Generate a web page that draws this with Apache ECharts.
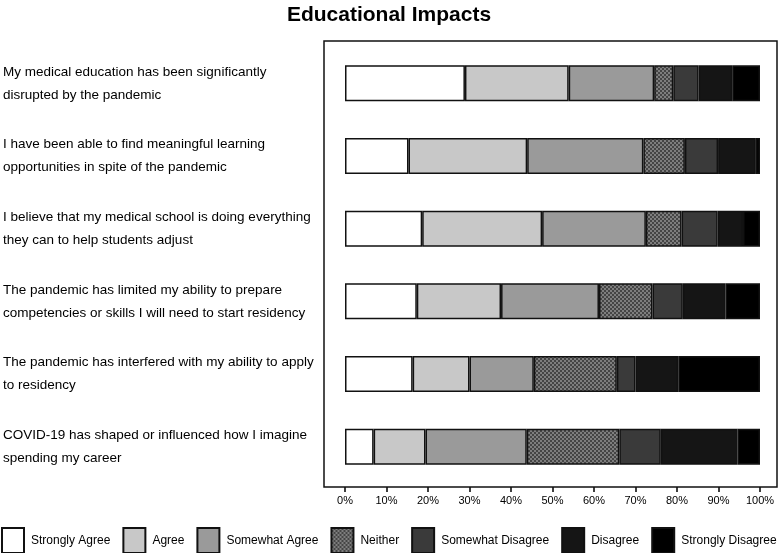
<!DOCTYPE html>
<html>
<head>
<meta charset="utf-8">
<script src="https://cdn.jsdelivr.net/npm/echarts@6/dist/echarts.min.js"></script>
<style>
html,body{margin:0;padding:0;background:#fff;}
#chart{width:778px;height:553px;}
</style>
</head>
<body>
<div id="chart"></div>
<script>
const categories = [
  "My medical education has been significantly\ndisrupted by the pandemic",
  "I have been able to find meaningful learning\nopportunities in spite of the pandemic",
  "I believe that my medical school is doing everything\nthey can to help students adjust",
  "The pandemic has limited my ability to prepare\ncompetencies or skills I will need to start residency",
  "The pandemic has interfered with my ability to apply\nto residency",
  "COVID-19 has shaped or influenced how I imagine\nspending my career"
];
const seriesNames = ["Strongly Agree","Agree","Somewhat Agree","Neither","Somewhat Disagree","Disagree","Strongly Disagree"];
const stronglyAgree    = [28.9, 15.3, 18.6, 17.3, 16.3, 6.9];
const agree            = [25.0, 28.6, 28.9, 20.3, 13.7, 12.5];
const somewhatAgree    = [20.6, 28.0, 25.0, 23.6, 15.5, 24.4];
const neither          = [4.6, 10.0, 8.6, 12.9, 20.0, 22.3];
const somewhatDisagree = [6.1, 8.0, 8.7, 7.3, 4.5, 10.0];
const disagree         = [8.1, 9.1, 6.1, 10.3, 10.3, 18.5];
const stronglyDisagree = [6.7, 1.0, 4.1, 8.3, 19.7, 5.4];
const xTicks = [0,10,20,30,40,50,60,70,80,90,100];

// checker pattern for "Neither"
const pc = document.createElement('canvas');
pc.width = 4; pc.height = 4;
const pctx = pc.getContext('2d');
pctx.fillStyle = '#454545'; pctx.fillRect(0,0,4,4);
pctx.fillStyle = '#7e7e7e'; pctx.fillRect(0,0,2,2); pctx.fillRect(2,2,2,2);
const pattern = {image: pc, repeat: 'repeat'};

const fills = ['#ffffff','#c8c8c8','#9a9a9a',pattern,'#3a3a3a','#151515','#000000'];
const values = [stronglyAgree, agree, somewhatAgree, neither, somewhatDisagree, disagree, stronglyDisagree];
const FONT = 'Liberation Sans, Arial, Helvetica, sans-serif';

const chart = echarts.init(document.getElementById('chart'), null, {renderer:'canvas'});
chart.setOption({
  animation: false,
  backgroundColor: '#fff',
  textStyle: {fontFamily: FONT},
  title: {
    text: 'Educational Impacts', left: 'center', top: 0,
    textStyle: {fontSize: 21, fontWeight: 'bold', color: '#000', fontFamily: FONT}
  },
  legend: {
    left: 1, top: 527, width: 777, padding: 0,
    itemWidth: 22, itemHeight: 25, itemGap: 12,
    icon: 'rect',
    textStyle: {fontSize: 12, color: '#000', fontFamily: FONT, padding: [0,0,0,2]},
    data: seriesNames
  },
  graphic: [{
    type: 'rect', silent: true, z: 10,
    shape: {x: 324, y: 41, width: 453, height: 446},
    style: {fill: 'none', stroke: '#111', lineWidth: 1.5}
  }],
  grid: {left: 345, right: 18, top: 47, height: 436, containLabel: false},
  xAxis: {
    type: 'value', min: 0, max: 100, interval: 10, offset: 4,
    axisLine: {show: false},
    axisTick: {show: true, length: 5, lineStyle: {color: '#000', width: 1.5}},
    splitLine: {show: false},
    axisLabel: {formatter: v => v + '%', fontSize: 11, color: '#000', margin: 8, fontFamily: FONT}
  },
  yAxis: {
    type: 'category', data: categories, inverse: true,
    axisLine: {show: false}, axisTick: {show: false},
    axisLabel: {align: 'left', margin: 342, fontSize: 13.5, lineHeight: 23, color: '#000', fontFamily: FONT}
  },
  series: seriesNames.map((name, i) => ({
    name: name, type: 'bar', stack: 'total', barWidth: 36,
    data: values[i],
    itemStyle: {color: fills[i], borderColor: '#111', borderWidth: 1.5}
  }))
});
</script>
</body>
</html>
